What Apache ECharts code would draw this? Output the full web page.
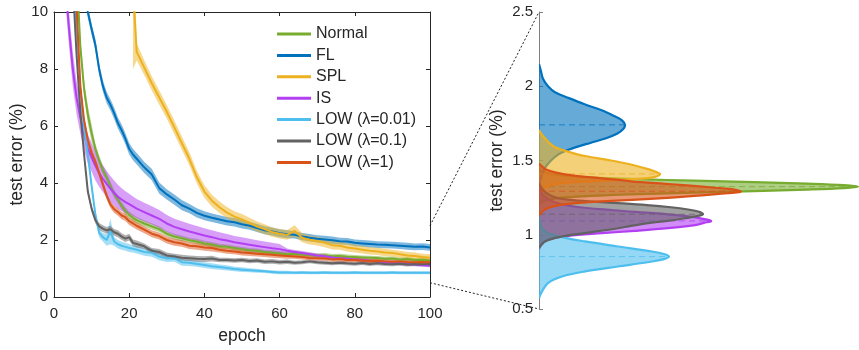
<!DOCTYPE html>
<html>
<head>
<meta charset="utf-8">
<script src="https://cdn.jsdelivr.net/npm/echarts@6/dist/echarts.min.js"></script>
<style>
  html, body { margin: 0; padding: 0; background: #ffffff; }
  #chart { width: 859px; height: 350px; }
</style>
</head>
<body>
<div id="chart"></div>
<script>
// ---- training curves: epoch grid shared by all methods ----
const epochs = [1,2,3,4,5,6,7,8,9,10,11,12,13,14,15,16,17,18,19,20,21,22,
  24,26,28,30,32,34,36,38,40,42,44,46,48,50,52,54,56,58,60,62,64,66,68,70,
  72,74,76,78,80,82,84,86,88,90,92,94,96,98,100];

const methodNames = ['Normal', 'FL', 'SPL', 'IS', 'LOW (λ=0.01)', 'LOW (λ=0.1)', 'LOW (λ=1)'];
const methodColors = ['#77AC30', '#0072BD', '#EDB120', '#B23FF2', '#4DBEEE', '#626262', '#D95319'];

// mean test error (%) per epoch
const normalErr = [40,30,22,17,14,11.5,8.8,7.3,6.4,5.75,5.2,4.8,4.45,4.2,3.9,3.62,3.42,3.2,3.02,2.88,2.78,2.7,
  2.58,2.48,2.38,2.22,2.12,2.06,1.99,1.95,1.88,1.84,1.78,1.76,1.72,1.68,1.64,1.62,1.58,1.56,1.53,1.5,1.52,1.49,1.47,1.45,
  1.46,1.43,1.44,1.41,1.4,1.39,1.38,1.37,1.34,1.35,1.32,1.33,1.3,1.31,1.28];
const flErr = [40,32,26,21,17,14,12,10.8,10.0,9.4,8.85,8.0,7.4,7.0,6.75,6.45,6.1,5.85,5.55,5.2,5.0,4.85,
  4.55,4.3,3.82,3.6,3.42,3.22,3.1,2.95,2.85,2.78,2.72,2.66,2.62,2.55,2.5,2.42,2.34,2.3,2.24,2.2,2.18,2.12,2.08,2.04,
  2.02,1.99,1.96,1.95,1.9,1.88,1.86,1.84,1.83,1.82,1.8,1.78,1.76,1.77,1.74];
const splErr = [null,null,null,null,null,null,null,null,null,null,null,null,null,null,null,null,null,null,null,null,10.8,8.6,
  8.05,7.5,7.0,6.5,5.95,5.4,4.85,4.2,3.7,3.38,3.15,2.96,2.82,2.72,2.6,2.47,2.38,2.28,2.22,2.18,2.32,2.08,2.0,1.96,
  1.9,1.82,1.8,1.74,1.7,1.66,1.62,1.6,1.56,1.54,1.5,1.46,1.44,1.4,1.38];
const isErr = [40,20,11,9.4,8.0,7.0,6.3,5.7,5.2,4.9,4.6,4.35,4.15,3.97,3.8,3.65,3.52,3.42,3.33,3.26,3.18,3.1,
  2.98,2.86,2.74,2.58,2.46,2.38,2.3,2.23,2.16,2.1,2.03,1.98,1.92,1.88,1.83,1.79,1.75,1.71,1.68,1.62,1.58,1.54,1.5,1.46,
  1.43,1.39,1.36,1.34,1.32,1.3,1.27,1.25,1.22,1.2,1.18,1.16,1.14,1.12,1.1];
const low001Err = [40,30,22,16,12,9.5,7.3,5.9,5.0,3.9,2.9,2.25,2.1,2.0,2.3,1.95,1.85,1.8,1.76,1.72,1.69,1.66,
  1.58,1.55,1.42,1.35,1.36,1.22,1.2,1.16,1.12,1.08,1.05,1.02,0.98,0.96,0.94,0.92,0.9,0.88,0.86,0.86,0.85,0.86,0.85,0.85,
  0.86,0.85,0.85,0.85,0.86,0.85,0.85,0.85,0.85,0.86,0.85,0.85,0.85,0.85,0.85];
const low01Err = [40,30,20,14,11,8.5,6.5,5.0,3.7,3.1,2.7,2.48,2.4,2.34,2.38,2.27,2.22,2.12,2.05,2.1,1.9,1.86,
  1.78,1.62,1.58,1.46,1.42,1.38,1.36,1.34,1.33,1.35,1.3,1.3,1.28,1.3,1.26,1.28,1.24,1.25,1.22,1.24,1.2,1.22,1.25,1.22,
  1.2,1.18,1.2,1.18,1.17,1.19,1.16,1.18,1.16,1.15,1.17,1.14,1.16,1.15,1.16];
const low1Err = [40,30,22,16,12.5,10.2,7.4,6.2,5.5,5.05,4.75,4.35,3.95,3.55,3.25,3.08,2.98,2.86,2.8,2.66,2.58,2.5,
  2.36,2.22,2.14,2.0,1.92,1.88,1.8,1.78,1.74,1.72,1.66,1.62,1.6,1.56,1.54,1.52,1.5,1.48,1.46,1.44,1.42,1.4,1.37,1.36,
  1.35,1.32,1.33,1.3,1.3,1.28,1.26,1.27,1.25,1.24,1.25,1.23,1.22,1.23,1.22];

// half-width of the shaded band (std over runs) per epoch
const normalSd = [0.3,0.3,0.3,0.3,0.3,0.3,0.3,0.3,0.3,0.3,0.18,0.17,0.16,0.15,0.15,0.14,0.14,0.13,0.13,0.12,0.12,0.12,
  0.11,0.11,0.1,0.1,0.1,0.1,0.09,0.09,0.09,0.09,0.09,0.08,0.08,0.08,0.08,0.08,0.08,0.08,0.08,0.08,0.1,0.08,0.08,0.08,
  0.08,0.08,0.08,0.08,0.07,0.07,0.07,0.07,0.07,0.07,0.07,0.07,0.07,0.07,0.07];
const flSd = [0.2,0.2,0.2,0.2,0.2,0.2,0.2,0.2,0.2,0.2,0.2,0.2,0.2,0.2,0.2,0.2,0.2,0.2,0.2,0.2,0.2,0.2,
  0.2,0.2,0.2,0.18,0.18,0.18,0.16,0.16,0.16,0.15,0.15,0.15,0.15,0.15,0.14,0.14,0.14,0.14,0.14,0.14,0.13,0.13,0.13,0.13,
  0.13,0.13,0.12,0.12,0.12,0.12,0.12,0.12,0.12,0.12,0.12,0.12,0.12,0.12,0.12];
const splSd = [0,0,0,0,0,0,0,0,0,0,0,0,0,0,0,0,0,0,0,0,2.8,0.3,
  0.26,0.25,0.25,0.24,0.24,0.23,0.23,0.22,0.22,0.21,0.2,0.2,0.19,0.19,0.18,0.18,0.17,0.17,0.17,0.17,0.2,0.16,0.16,0.15,
  0.15,0.15,0.14,0.14,0.14,0.13,0.13,0.13,0.13,0.12,0.12,0.12,0.12,0.12,0.12];
const isSd = [0.6,0.6,0.6,0.6,0.6,0.58,0.56,0.54,0.52,0.5,0.5,0.48,0.47,0.46,0.45,0.44,0.42,0.4,0.38,0.36,0.35,0.34,
  0.33,0.32,0.31,0.3,0.29,0.28,0.27,0.26,0.25,0.24,0.24,0.23,0.22,0.22,0.21,0.2,0.2,0.19,0.18,0.08,0.07,0.07,0.07,0.07,
  0.07,0.06,0.06,0.06,0.06,0.06,0.06,0.06,0.06,0.06,0.06,0.06,0.06,0.06,0.06];
const low001Sd = [0.15,0.15,0.15,0.15,0.15,0.15,0.15,0.15,0.15,0.15,0.15,0.15,0.15,0.2,0.45,0.15,0.15,0.14,0.14,0.14,0.13,0.13,
  0.13,0.14,0.13,0.12,0.12,0.12,0.11,0.1,0.1,0.1,0.09,0.09,0.08,0.08,0.07,0.07,0.06,0.06,0.06,0.06,0.05,0.05,0.05,0.05,
  0.05,0.05,0.05,0.05,0.05,0.05,0.05,0.05,0.05,0.05,0.05,0.05,0.05,0.05,0.05];
const low01Sd = [0.12,0.12,0.12,0.12,0.12,0.12,0.12,0.12,0.12,0.12,0.12,0.12,0.12,0.12,0.12,0.12,0.12,0.12,0.12,0.12,0.12,0.12,
  0.1,0.1,0.1,0.1,0.1,0.1,0.1,0.1,0.1,0.1,0.08,0.08,0.08,0.08,0.08,0.08,0.08,0.08,0.08,0.08,0.07,0.07,0.07,0.07,
  0.07,0.07,0.07,0.07,0.07,0.07,0.07,0.07,0.07,0.07,0.07,0.07,0.07,0.07,0.07];
const low1Sd = [0.15,0.15,0.15,0.15,0.15,0.15,0.15,0.15,0.15,0.15,0.13,0.13,0.13,0.13,0.13,0.13,0.13,0.13,0.13,0.13,0.13,0.13,
  0.12,0.12,0.12,0.12,0.12,0.12,0.12,0.12,0.12,0.12,0.1,0.1,0.1,0.1,0.1,0.1,0.1,0.1,0.1,0.1,0.08,0.08,0.08,0.08,
  0.08,0.08,0.08,0.08,0.08,0.08,0.08,0.08,0.08,0.08,0.08,0.08,0.08,0.08,0.08];

// ---- final test error distributions: [test error (%), density] ----
const normalDensity = [[1.444,0],[1.424,0.04],[1.404,0.16],[1.394,0.32],[1.384,0.6],[1.374,1.0],[1.364,1.55],[1.354,2.15],
  [1.344,2.68],[1.334,3.05],[1.324,3.19],[1.314,3.05],[1.304,2.68],[1.294,2.15],[1.284,1.55],[1.274,1.0],[1.264,0.6],
  [1.254,0.32],[1.244,0.16],[1.224,0.04],[1.204,0]];
const flDensity = [[2.15,0],[2.10,0.02],[2.05,0.04],[2.0,0.09],[1.96,0.16],[1.92,0.3],[1.88,0.45],[1.84,0.62],[1.80,0.75],
  [1.77,0.83],[1.74,0.86],[1.71,0.84],[1.68,0.78],[1.65,0.67],[1.62,0.52],[1.59,0.37],[1.56,0.25],[1.53,0.17],[1.50,0.12],
  [1.46,0.07],[1.42,0.04],[1.38,0.02],[1.34,0]];
const splDensity = [[1.705,0],[1.68,0.02],[1.65,0.06],[1.62,0.1],[1.59,0.16],[1.56,0.29],[1.53,0.46],[1.50,0.72],[1.47,0.94],
  [1.44,1.1],[1.42,1.18],[1.41,1.21],[1.40,1.2],[1.39,1.16],[1.38,1.06],[1.37,0.82],[1.36,0.52],[1.35,0.28],[1.33,0.1],
  [1.30,0.03],[1.26,0]];
const isDensity = [[1.31,0],[1.26,0.05],[1.22,0.15],[1.19,0.35],[1.165,0.75],[1.145,1.15],[1.13,1.4],[1.115,1.58],[1.093,1.72],
  [1.08,1.65],[1.065,1.56],[1.044,1.29],[1.026,0.96],[1.011,0.63],[0.993,0.29],[0.966,0.09],[0.93,0.02],[0.899,0]];
const low001Density = [[1.12,0],[1.06,0.02],[1.021,0.06],[0.984,0.23],[0.955,0.46],[0.921,0.79],[0.887,1.13],[0.87,1.25],
  [0.853,1.3],[0.836,1.25],[0.82,1.13],[0.786,0.79],[0.753,0.46],[0.719,0.23],[0.675,0.09],[0.619,0.03],[0.574,0]];
const low01Density = [[1.35,0],[1.31,0.03],[1.27,0.1],[1.245,0.2],[1.23,0.4],[1.215,0.75],[1.2,1.08],[1.185,1.32],[1.17,1.49],
  [1.155,1.6],[1.138,1.64],[1.125,1.58],[1.111,1.46],[1.095,1.3],[1.082,1.13],[1.06,0.92],[1.044,0.79],[1.011,0.46],
  [0.988,0.23],[0.955,0.06],[0.91,0]];
const low1Density = [[1.48,0],[1.46,0.03],[1.44,0.07],[1.42,0.16],[1.40,0.33],[1.38,0.63],[1.36,0.92],[1.34,1.33],[1.324,1.63],
  [1.31,1.88],[1.30,1.98],[1.293,2.02],[1.285,1.98],[1.275,1.8],[1.26,1.52],[1.245,1.2],[1.235,0.93],[1.225,0.62],
  [1.215,0.4],[1.2,0.2],[1.18,0.09],[1.16,0.04],[1.13,0]];

const errSets = [normalErr, flErr, splErr, isErr, low001Err, low01Err, low1Err];
const sdSets = [normalSd, flSd, splSd, isSd, low001Sd, low01Sd, low1Sd];
const densitySets = [normalDensity, flDensity, splDensity, isDensity, low001Density, low01Density, low1Density];

const FONT = '"Liberation Sans", Arial, sans-serif';
const TEXT = '#262626';

function curvePoints(k) {
  const pts = [];
  epochs.forEach(function (e, i) {
    if (errSets[k][i] != null) pts.push([e, errSets[k][i], sdSets[k][i]]);
  });
  return pts;
}

function bandSeries(k) {
  const pts = curvePoints(k);
  const color = methodColors[k];
  return {
    type: 'custom', name: 'band' + k, xAxisIndex: 0, yAxisIndex: 0,
    clip: true, silent: true, z: 2, data: [[50, 5]],
    renderItem: function (params, api) {
      const up = pts.map(function (p) { return api.coord([p[0], p[1] + p[2]]); });
      const lo = pts.map(function (p) { return api.coord([p[0], p[1] - p[2]]); }).reverse();
      return { type: 'polygon', shape: { points: up.concat(lo) },
               style: { fill: color, opacity: 0.5 } };
    }
  };
}

function lineSeries(k) {
  const pts = curvePoints(k);
  return {
    type: 'line', name: methodNames[k], xAxisIndex: 0, yAxisIndex: 0,
    data: pts.map(function (p) { return [p[0], p[1]]; }),
    showSymbol: false, symbol: 'none', clip: true, z: 3,
    color: methodColors[k],
    lineStyle: { width: 2, color: methodColors[k] }
  };
}

function densitySeries(k) {
  const dens = densitySets[k];
  const color = methodColors[k];
  let peak = dens[0];
  dens.forEach(function (d) { if (d[1] > peak[1]) peak = d; });
  return {
    type: 'custom', name: 'dist' + k, xAxisIndex: 2, yAxisIndex: 2,
    clip: true, silent: true, z: 2, data: [[0, 1.5]],
    renderItem: function (params, api) {
      const pts = dens.map(function (d) { return api.coord([d[1], d[0]]); });
      const a = api.coord([0, peak[0]]);
      const b = api.coord([peak[1], peak[0]]);
      return {
        type: 'group',
        children: [
          { type: 'polygon', shape: { points: pts, smooth: 0.35 },
            style: { fill: color, opacity: 0.6 } },
          { type: 'line', shape: { x1: a[0], y1: a[1], x2: b[0], y2: b[1] },
            style: { stroke: color, opacity: 0.75, lineWidth: 1, lineDash: [6, 4] } },
          { type: 'polyline', shape: { points: pts, smooth: 0.35 },
            style: { stroke: color, lineWidth: 2.2, fill: null } }
        ]
      };
    }
  };
}

const series = [];
for (let k = 0; k < 7; k++) series.push(bandSeries(k));
for (let k = 0; k < 7; k++) series.push(lineSeries(k));
for (let k = 0; k < 7; k++) series.push(densitySeries(k));

const boxAxisLine = { show: true, onZero: false, lineStyle: { color: TEXT, width: 1 } };
const boxTick = { show: true, inside: true, length: 4, lineStyle: { color: TEXT, width: 1 } };

const chart = echarts.init(document.getElementById('chart'), null, { renderer: 'canvas' });
chart.setOption({
  animation: false,
  backgroundColor: '#ffffff',
  textStyle: { fontFamily: FONT, color: TEXT },
  grid: [
    { left: 54, top: 12, width: 376, height: 286 },
    { left: 539, top: 12, width: 320, height: 297 }
  ],
  legend: {
    data: methodNames.map(function (n) { return { name: n, icon: 'rect' }; }),
    orient: 'vertical', left: 277, top: 26, padding: 0,
    itemWidth: 34, itemHeight: 3, itemGap: 5.4,
    selectedMode: false,
    textStyle: { fontFamily: FONT, fontSize: 16, lineHeight: 16, color: TEXT, padding: [0, 0, 0, 0] }
  },
  xAxis: [
    { gridIndex: 0, type: 'value', min: 0, max: 100, interval: 20, position: 'bottom',
      axisLine: boxAxisLine, axisTick: boxTick, splitLine: { show: false },
      axisLabel: { fontFamily: FONT, fontSize: 15, color: TEXT, margin: 9 },
      name: 'epoch', nameLocation: 'middle', nameGap: 30,
      nameTextStyle: { fontFamily: FONT, fontSize: 17.5, color: TEXT } },
    { gridIndex: 0, type: 'value', min: 0, max: 100, interval: 20, position: 'top',
      axisLine: boxAxisLine, axisTick: boxTick, splitLine: { show: false },
      axisLabel: { show: false } },
    { gridIndex: 1, type: 'value', min: 0, max: 3.2, show: false }
  ],
  yAxis: [
    { gridIndex: 0, type: 'value', min: 0, max: 10, interval: 2, position: 'left',
      axisLine: boxAxisLine, axisTick: boxTick, splitLine: { show: false },
      axisLabel: { fontFamily: FONT, fontSize: 15, color: TEXT, margin: 6 },
      name: 'test error (%)', nameLocation: 'middle', nameGap: 27.5, nameRotate: 90,
      nameTextStyle: { fontFamily: FONT, fontSize: 17.5, color: TEXT } },
    { gridIndex: 0, type: 'value', min: 0, max: 10, interval: 2, position: 'right',
      axisLine: boxAxisLine, axisTick: boxTick, splitLine: { show: false },
      axisLabel: { show: false } },
    { gridIndex: 1, type: 'value', min: 0.5, max: 2.5, interval: 0.5, position: 'left',
      axisLine: { show: true, onZero: false, lineStyle: { color: '#7f7f7f', width: 1 } },
      axisTick: { show: true, inside: true, length: 4, lineStyle: { color: '#7f7f7f', width: 1 } },
      splitLine: { show: false },
      axisLabel: { fontFamily: FONT, fontSize: 15, color: TEXT, margin: 6 },
      name: 'test error (%)', nameLocation: 'middle', nameGap: 32.5, nameRotate: 90,
      nameTextStyle: { fontFamily: FONT, fontSize: 17.5, color: TEXT } }
  ],
  series: series
});

// dotted connectors from the zoomed range of the curve panel to the distribution axis
const leftIdx = 7;   // first line series (curve panel)
const rightIdx = 14; // first distribution series
const zoomRange = [2.5, 0.5];
const connectors = zoomRange.map(function (v) {
  const p = chart.convertToPixel({ seriesIndex: leftIdx }, [100, v]);
  const q = chart.convertToPixel({ seriesIndex: rightIdx }, [0, v]);
  return {
    type: 'line', silent: true, z: 10,
    shape: { x1: p[0], y1: p[1], x2: q[0], y2: q[1] },
    style: { stroke: '#222222', lineWidth: 1, lineDash: [2, 2] }
  };
});
chart.setOption({ graphic: connectors });
</script>
</body>
</html>
